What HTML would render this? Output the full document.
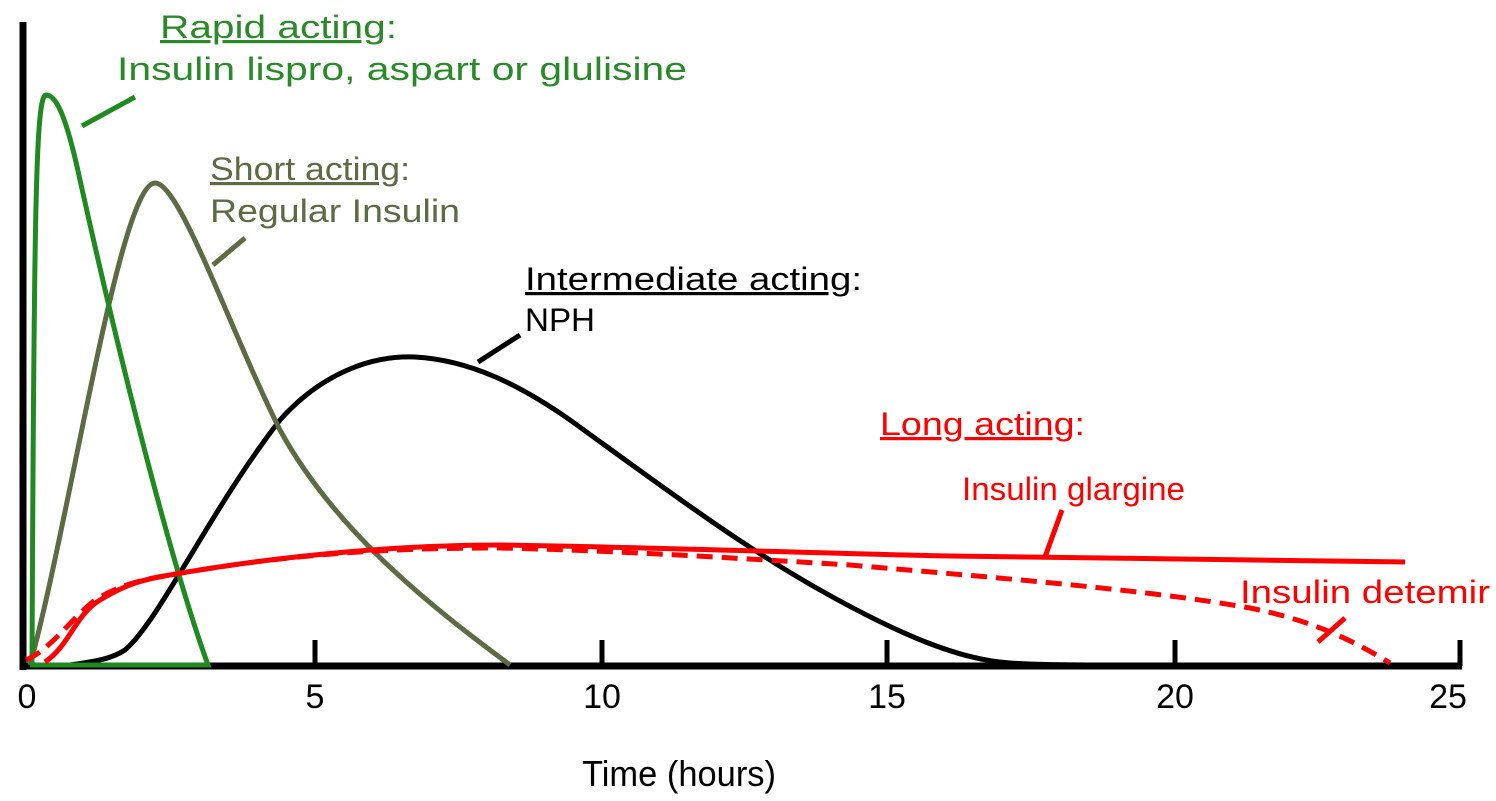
<!DOCTYPE html>
<html><head><meta charset="utf-8"><style>html,body{margin:0;padding:0;background:#fff}svg{display:block}</style></head>
<body>
<svg width="1496" height="801" viewBox="0 0 1496 801" xmlns="http://www.w3.org/2000/svg" font-family="Liberation Sans, sans-serif">
<rect width="1496" height="801" fill="#fff"/>
<!-- axes -->
<line x1="23" y1="22" x2="23" y2="670" stroke="#000" stroke-width="7"/>
<line x1="20" y1="666" x2="1462" y2="666" stroke="#000" stroke-width="7"/>
<g stroke="#000" stroke-width="5">
<line x1="315" y1="640" x2="315" y2="666"/><line x1="602" y1="640" x2="602" y2="666"/>
<line x1="887" y1="640" x2="887" y2="666"/><line x1="1175" y1="640" x2="1175" y2="666"/>
<line x1="1460" y1="640" x2="1460" y2="666"/>
</g>
<g font-size="34" fill="#000" text-anchor="middle">
<text x="27" y="708">0</text><text x="315" y="708">5</text><text x="602" y="708">10</text>
<text x="887" y="708">15</text><text x="1175" y="708">20</text><text x="1448" y="708">25</text>
</g>
<text x="582" y="786" font-size="36" textLength="194" lengthAdjust="spacingAndGlyphs">Time (hours)</text>
<!-- NPH -->
<path d="M70,665 C90,662 110,660 125,650 C160,620 210,510 280,420 C320,375 370,355 415,357 C470,360 520,385 570,420 C660,485 740,545 820,590 C900,635 960,660 1010,663 C1040,665 1070,665 1100,665" fill="none" stroke="#000" stroke-width="5"/>
<line x1="478" y1="362" x2="520" y2="335" stroke="#000" stroke-width="5"/>
<!-- Short -->
<path d="M30,665 C70,520 120,183 155,183 C180,183 230,330 280,430 C340,540 450,620 510,665" fill="none" stroke="#5c6b44" stroke-width="5"/>
<line x1="213" y1="265" x2="245" y2="238" stroke="#5c6b44" stroke-width="5"/>
<!-- Rapid -->
<path d="M30,665 L208,665 C170,560 120,360 80,180 C65,110 55,95 46,95 C36,95 34,200 32,665" fill="none" stroke="#1f8a1f" stroke-width="5"/>
<line x1="82" y1="126" x2="135" y2="97" stroke="#1f8a1f" stroke-width="5"/>
<!-- Detemir -->
<path d="M26,660 C50,650 70,620 95,600 C120,585 140,580 170,575 C300,552 400,548 500,548 C600,550 700,556 850,565 C1000,578 1150,590 1250,608 C1320,622 1360,645 1390,663" fill="none" stroke="#f00" stroke-width="5" stroke-dasharray="16,9"/>
<line x1="1318" y1="642" x2="1345" y2="618" stroke="#f00" stroke-width="5"/>
<!-- Glargine -->
<path d="M45,662 C70,645 75,615 100,600 C125,585 140,580 170,575 C300,552 420,545 500,545 C650,547 800,553 950,556 C1150,560 1300,562 1405,562" fill="none" stroke="#f00" stroke-width="5"/>
<line x1="1045" y1="557" x2="1062" y2="510" stroke="#f00" stroke-width="5"/>
<!-- labels -->
<g font-size="32">
<text x="160" y="38" fill="#2a8a2a" textLength="237" lengthAdjust="spacingAndGlyphs"><tspan text-decoration="underline">Rapid acting</tspan>:</text>
<text x="117" y="80" fill="#2a8a2a" textLength="570" lengthAdjust="spacingAndGlyphs">Insulin lispro, aspart or glulisine</text>
<text x="210" y="180" fill="#5c6b44" textLength="200" lengthAdjust="spacingAndGlyphs"><tspan text-decoration="underline">Short acting</tspan>:</text>
<text x="210" y="222" fill="#5c6b44" textLength="250" lengthAdjust="spacingAndGlyphs">Regular Insulin</text>
<text x="525" y="290" fill="#000" textLength="337" lengthAdjust="spacingAndGlyphs"><tspan text-decoration="underline">Intermediate acting</tspan>:</text>
<text x="525" y="331" fill="#000" textLength="70" lengthAdjust="spacingAndGlyphs">NPH</text>
<text x="880" y="435" fill="#f00" textLength="205" lengthAdjust="spacingAndGlyphs"><tspan text-decoration="underline">Long acting</tspan>:</text>
<text x="962" y="500" fill="#f00" textLength="223" lengthAdjust="spacingAndGlyphs">Insulin glargine</text>
<text x="1240" y="603" fill="#f00" textLength="250" lengthAdjust="spacingAndGlyphs">Insulin detemir</text>
</g>
</svg>
</body></html>
